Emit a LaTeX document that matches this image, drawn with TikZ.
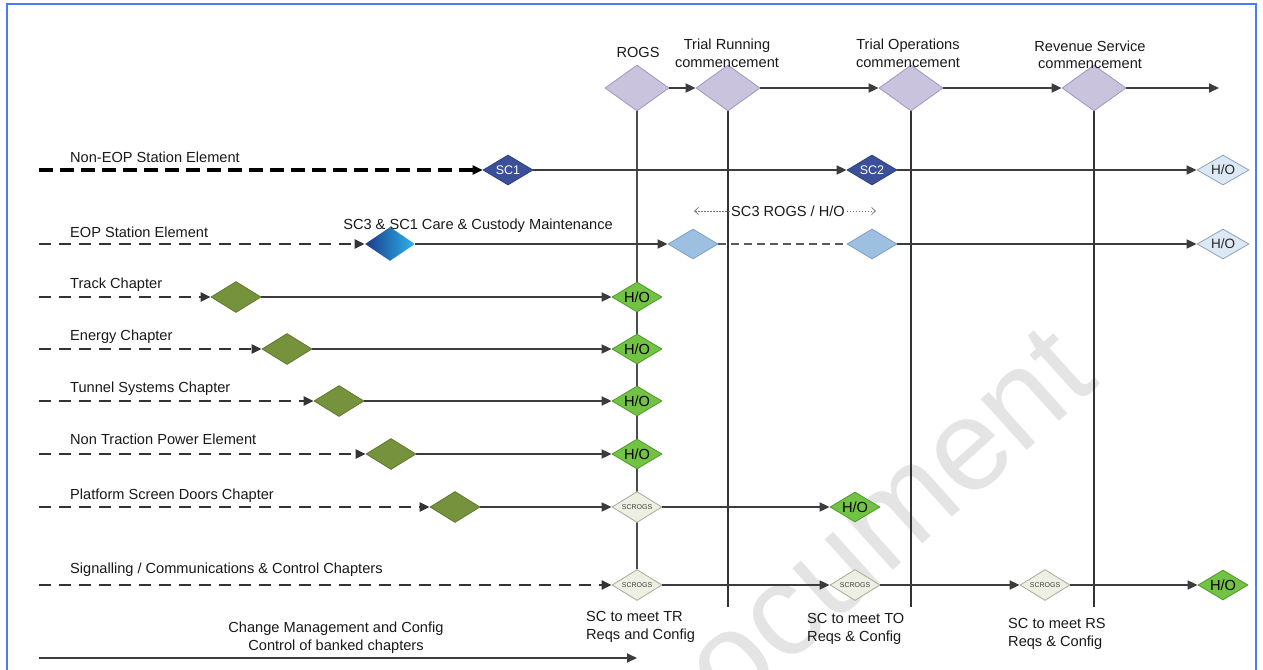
\documentclass[tikz,border=0pt]{standalone}
\usepackage{fontspec}
\setmainfont{Liberation Sans}
\usetikzlibrary{shapes.geometric,arrows.meta,backgrounds}

\definecolor{framebl}{HTML}{4A7CF4}
\definecolor{lineg}{HTML}{3C3C3C}
\definecolor{lilac}{HTML}{C9C3DE}
\definecolor{lilacd}{HTML}{9E97BE}
\definecolor{scfill}{HTML}{3B5099}
\definecolor{scdraw}{HTML}{2D3F7D}
\definecolor{hobfill}{HTML}{DCE8F3}
\definecolor{hobdraw}{HTML}{8FA3B8}
\definecolor{eopfill}{HTML}{9DBFE0}
\definecolor{eopdraw}{HTML}{7DA0C6}
\definecolor{eopleft}{HTML}{1A3A8A}
\definecolor{eopright}{HTML}{2EB6EC}
\definecolor{olive}{HTML}{76923C}
\definecolor{olived}{HTML}{5F7A2E}
\definecolor{hogfill}{HTML}{72C343}
\definecolor{hogdraw}{HTML}{4F9A2A}
\definecolor{scrfill}{HTML}{EDEFE3}
\definecolor{scrdraw}{HTML}{A8AB98}
\definecolor{wmgrey}{HTML}{E4E4E4}

\begin{document}
\begin{tikzpicture}[x=1pt,y=-1pt,
  lbl/.style={inner sep=0pt, font=\fontsize{14.6}{17.5}\selectfont, text=black!90},
  dia/.style={shape=diamond, inner sep=0pt, aspect=1.7, line width=0.8pt},
  mile/.style={dia, minimum width=64pt, minimum height=46pt, fill=lilac, draw=lilacd},
  scdark/.style={dia, minimum width=50pt, minimum height=30pt, fill=scfill, draw=scdraw,
     text=white, font=\fontsize{12.5}{14}\selectfont},
  hoblue/.style={dia, minimum width=52pt, minimum height=30pt, fill=hobfill, draw=hobdraw,
     text=black!85, font=\fontsize{13.5}{15}\selectfont},
  eopd/.style={dia, minimum width=50pt, minimum height=30pt, fill=eopfill, draw=eopdraw},
  gradd/.style={dia, minimum width=50pt, minimum height=34pt, left color=eopleft, right color=eopright},
  olived/.style={dia, minimum width=50pt, minimum height=31pt, fill=olive, draw=olived},
  hogreen/.style={dia, minimum width=50pt, minimum height=30pt, fill=hogfill, draw=hogdraw,
     text=black, font=\fontsize{14.6}{16}\selectfont},
  scrogs/.style={dia, minimum width=50pt, minimum height=31pt, fill=scrfill, draw=scrdraw,
     text=black!75, font=\fontsize{7}{8}\selectfont},
  tip/.style={-{Triangle[length=10pt,width=9pt]}},
  conn/.style={draw=lineg, line width=1.8pt, tip},
  dashblack/.style={draw=black, line width=3.2pt, dash pattern=on 14pt off 7pt, tip},
  dashgrey/.style={draw=black!80, line width=2.6pt, dash pattern=on 12pt off 8pt, tip},
  dashmid/.style={draw=black!65, line width=2.4pt, dash pattern=on 8pt off 5pt},
  dotarrow/.style={draw=black!55, line width=0.7pt, dash pattern=on 1.5pt off 1.5pt,
     -{Straight Barb[length=4pt,width=7pt]}},
  vline/.style={draw=black!70, line width=1.5pt},
  vlinedark/.style={draw=black!80, line width=2pt},
  framestyle/.style={draw=framebl, line width=2.6pt},
  watermark/.style={inner sep=0pt, text=wmgrey, font=\fontsize{130}{130}\selectfont}
]
\useasboundingbox (0,0) rectangle (1263,669);

% ---------- milestones along the top ----------
\node[mile] (rogs) at (637,88) {};
\node[mile] (tr)   at (728,88) {};
\node[mile] (to)   at (911,88) {};
\node[mile] (rs)   at (1094,88) {};
\coordinate (tend) at (1219,88);

% multi-line labels are placed by the baseline of their last line
\node[lbl, anchor=base] (rogsL) at (638,58) {ROGS};
\node[lbl, anchor=base, align=center] (trL) at (727,67) {Trial Running\\commencement};
\node[lbl, anchor=base, align=center] (toL) at (908,67) {Trial Operations\\commencement};
\node[lbl, anchor=base, align=center] (rsL) at (1090,69) {Revenue Service\\commencement};

\draw[conn] (rogs) -- (tr);
\draw[conn] (tr) -- (to);
\draw[conn] (to) -- (rs);
\draw[conn] (rs) -- (tend);

% ---------- station elements ----------
\coordinate (s1) at (39,170);
\node[lbl, anchor=base west] (l1) at (70,162) {Non-EOP Station Element};
\node[scdark] (sc1) at (508,170) {SC1};
\node[scdark] (sc2) at (872,170) {SC2};
\node[hoblue] (ho1) at (1223,170) {H/O};
\draw[dashblack] (s1) -- (sc1);
\draw[conn] (sc1) -- (sc2);
\draw[conn] (sc2) -- (ho1);

\coordinate (s2) at (39,244);
\node[lbl, anchor=base west] (l2) at (70,237) {EOP Station Element};
\node[gradd] (eop0) at (390,244) {};
\node[lbl, anchor=base] (care) at (478,229) {SC3 \& SC1 Care \& Custody Maintenance};
\node[eopd] (eop1) at (693,244) {};
\node[eopd] (eop2) at (872,244) {};
\node[hoblue] (ho2) at (1223,244) {H/O};
\draw[dashgrey] (s2) -- (eop0);
\draw[conn] (eop0) -- (eop1);
\draw[dashmid] (eop1) -- (eop2);
\draw[conn] (eop2) -- (ho2);

\node[lbl, inner sep=1.5pt] (rogsho) at (788,211) {SC3 ROGS / H/O};
\coordinate (bl) at (694,211);
\coordinate (br) at (876,211);
\draw[dotarrow] (rogsho.west) -- (bl);
\draw[dotarrow] (rogsho.east) -- (br);

% ---------- chapters handed over at ROGS ----------
\coordinate (s3) at (39,297);
\node[lbl, anchor=base west] (l3) at (70,288) {Track Chapter};
\node[olived] (o3) at (236,297) {};
\node[hogreen] (h3) at (637,297) {H/O};
\draw[dashgrey] (s3) -- (o3);
\draw[conn] (o3) -- (h3);

\coordinate (s4) at (39,349);
\node[lbl, anchor=base west] (l4) at (70,340) {Energy Chapter};
\node[olived] (o4) at (287,349) {};
\node[hogreen] (h4) at (637,349) {H/O};
\draw[dashgrey] (s4) -- (o4);
\draw[conn] (o4) -- (h4);

\coordinate (s5) at (39,401);
\node[lbl, anchor=base west] (l5) at (70,392) {Tunnel Systems Chapter};
\node[olived] (o5) at (339,401) {};
\node[hogreen] (h5) at (637,401) {H/O};
\draw[dashgrey] (s5) -- (o5);
\draw[conn] (o5) -- (h5);

\coordinate (s6) at (39,454);
\node[lbl, anchor=base west] (l6) at (70,444) {Non Traction Power Element};
\node[olived] (o6) at (391,454) {};
\node[hogreen] (h6) at (637,454) {H/O};
\draw[dashgrey] (s6) -- (o6);
\draw[conn] (o6) -- (h6);

% ---------- chapters with staged completion ----------
\coordinate (s7) at (39,507);
\node[lbl, anchor=base west] (l7) at (70,499) {Platform Screen Doors Chapter};
\node[olived] (o7) at (455,507) {};
\node[scrogs] (sr7) at (637,507) {SCROGS};
\node[hogreen] (h7) at (855,507) {H/O};
\draw[dashgrey] (s7) -- (o7);
\draw[conn] (o7) -- (sr7);
\draw[conn] (sr7) -- (h7);

\coordinate (s8) at (39,585);
\node[lbl, anchor=base west] (l8) at (70,573) {Signalling / Communications \& Control Chapters};
\node[scrogs] (scb1) at (637,585) {SCROGS};
\node[scrogs] (scb2) at (855,585) {SCROGS};
\node[scrogs] (scb3) at (1045,585) {SCROGS};
\node[hogreen] (h8) at (1223,585) {H/O};
\draw[dashgrey] (s8) -- (scb1);
\draw[conn] (scb1) -- (scb2);
\draw[conn] (scb2) -- (scb3);
\draw[conn] (scb3) -- (h8);

\node[lbl, anchor=base west, align=left] (trReq) at (586,639) {SC to meet TR\\Reqs and Config};
\node[lbl, anchor=base west, align=left] (toReq) at (807,641) {SC to meet TO\\Reqs \& Config};
\node[lbl, anchor=base west, align=left] (rsReq) at (1008,646) {SC to meet RS\\Reqs \& Config};

% ---------- change management ----------
\node[lbl, anchor=base, align=center] (cm) at (336,650) {Change Management and Config\\Control of banked chapters};
\coordinate (cm0) at (39,658);
\coordinate (cm1) at (637,658);
\draw[conn] (cm0) -- (cm1);

% ---------- milestone verticals, frame and watermark behind ----------
\coordinate (trb) at (728,607);
\coordinate (tob) at (911,607);
\coordinate (rsb) at (1094,607);
\begin{pgfonlayer}{background}
  \begin{scope}
    \clip (0,0) rectangle (1263,669);
    \node[watermark, rotate=42, anchor=base west] (wm) at (661,780) {Document};
  \end{scope}
  \draw[vline] (rogs.south) -- (scb1.north);
  \draw[vlinedark] (tr.south) -- (trb);
  \draw[vlinedark] (to.south) -- (tob);
  \draw[vlinedark] (rs.south) -- (rsb);
  \draw[framestyle] (7,675) -- (7,4) -- (1256,4) -- (1256,675);
\end{pgfonlayer}
\end{tikzpicture}
\end{document}
